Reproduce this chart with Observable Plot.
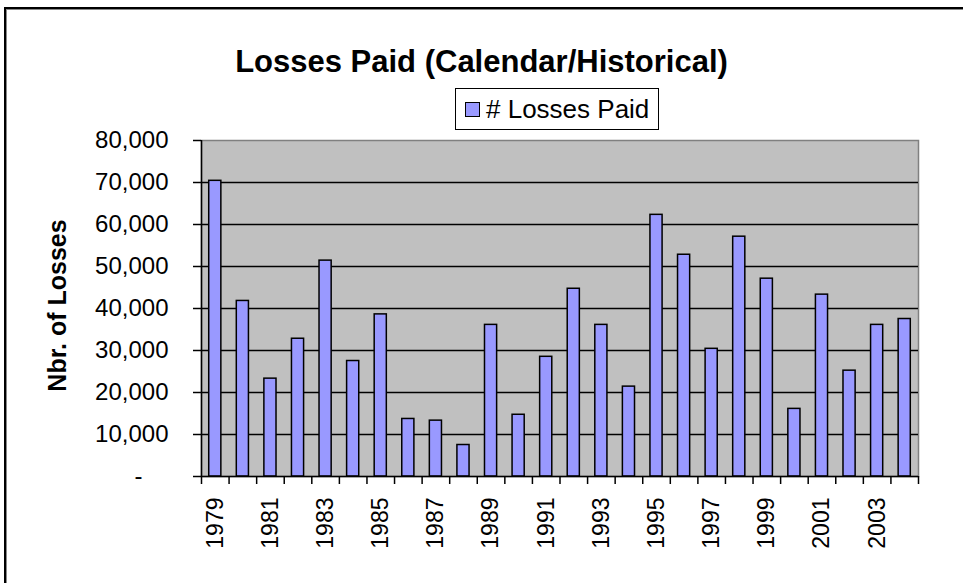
<!DOCTYPE html>
<html>
<head>
<meta charset="utf-8">
<script src="https://cdn.jsdelivr.net/npm/d3@7"></script>
<script src="https://cdn.jsdelivr.net/npm/@observablehq/plot@0.6"></script>
<style>
  html, body { margin: 0; padding: 0; background: #fff; overflow: hidden; }
  #wrap { position: relative; width: 963px; height: 583px; font-family: "Liberation Sans", Arial, sans-serif; }
  #border { position: absolute; left: 4px; top: 7px; width: 1200px; height: 1200px; border-left: 2px solid #000; border-top: 2px solid #000; box-shadow: inset 1px 1px 0 #888; }
  #title { position: absolute; left: 0; width: 963px; top: 44px; text-align: center; font-weight: bold; font-size: 31px; color: #000; }
  #legend { position: absolute; left: 455px; top: 88px; width: 204px; height: 42px; box-sizing: border-box; border: 1.5px solid #000; background: #fff; font-size: 26px; display: flex; align-items: center; }
  #legend .sw { width: 13px; height: 13px; background: #9999ff; border: 1.5px solid #000; margin-left: 9px; margin-right: 6px; }
  #chart { position: absolute; left: 0; top: 0; }
</style>
</head>
<body>
<div id="wrap">
  <div id="border"></div>
  <div id="chart"></div>
  <div id="title">Losses Paid (Calendar/Historical)</div>
  <div id="legend"><span class="sw"></span><span id="legtext"></span></div>
</div>
<script>
const titleText = "Losses Paid (Calendar/Historical)";
const seriesName = "# Losses Paid";
const yLabel = "Nbr. of Losses";
const years = [1979,1980,1981,1982,1983,1984,1985,1986,1987,1988,1989,1990,1991,1992,1993,1994,1995,1996,1997,1998,1999,2000,2001,2002,2003,2004];
const losses = [70400,41800,23300,32800,51400,27500,38600,13700,13300,7500,36100,14700,28500,44700,36100,21400,62300,52800,30400,57100,47100,16100,43300,25200,36100,37500];
const yTicks = [0,10000,20000,30000,40000,50000,60000,70000,80000];
const xTickLabels = years.filter((d, i) => i % 2 === 0);

document.getElementById("title").textContent = titleText;
document.getElementById("legtext").textContent = seriesName;

const data = years.map((y, i) => ({year: y, value: losses[i]}));

const W = 963, H = 583, mL = 201, mR = 45, mT = 140, mB = 107;
const bw = (W - mL - mR) / years.length;
const fmt = d3.format(",");

const chart = Plot.plot({
  width: W, height: H,
  marginLeft: mL, marginRight: mR, marginTop: mT, marginBottom: mB,
  style: {fontFamily: '"Liberation Sans", Arial, sans-serif', background: "transparent", overflow: "visible", color: "#000"},
  x: {type: "band", domain: years, paddingInner: 0.56, paddingOuter: 0.28, round: false},
  y: {domain: [0, 80000]},
  marks: [
    Plot.frame({fill: "#c0c0c0", stroke: "#808080", strokeWidth: 1.5}),
    Plot.gridY(yTicks.filter(d => d > 0 && d < 80000), {stroke: "#000", strokeOpacity: 1, strokeWidth: 1.5}),
    Plot.barY(data, {x: "year", y: "value", fill: "#9999ff", stroke: "#000", strokeWidth: 1.5}),
    Plot.ruleY([0], {stroke: "#000", strokeWidth: 1.5}),
    Plot.ruleX(years.slice(0, 1), {x: d => d, y1: 0, y2: 80000, dx: -bw / 2, stroke: "#000", strokeWidth: 1.5}),
    Plot.axisY({ticks: yTicks, tickSize: 8, tickPadding: 25, fontSize: 24, label: null,
      tickFormat: d => d === 0 ? "" : fmt(d), stroke: "#000", strokeWidth: 1.5}),
    Plot.text([0], {y: d => d, text: () => "-", frameAnchor: "left", dx: -59, textAnchor: "end", fontSize: 24}),
    Plot.axisX({ticks: years, tickSize: 8, tickFormat: () => "", label: null, dx: -bw / 2, stroke: "#000", strokeWidth: 1.5}),
    Plot.axisX({ticks: years.slice(-1), tickSize: 8, tickFormat: () => "", label: null, dx: bw / 2, stroke: "#000", strokeWidth: 1.5}),
    Plot.axisX({ticks: xTickLabels, tickSize: 0, tickRotate: -90, tickPadding: 21, fontSize: 23, label: null, tickFormat: d => String(d)}),
    Plot.text([yLabel], {frameAnchor: "left", textAnchor: "middle", rotate: -90, dx: -144, dy: -3, fontSize: 25, fontWeight: "bold"})
  ]
});
document.getElementById("chart").appendChild(chart);
</script>
</body>
</html>
